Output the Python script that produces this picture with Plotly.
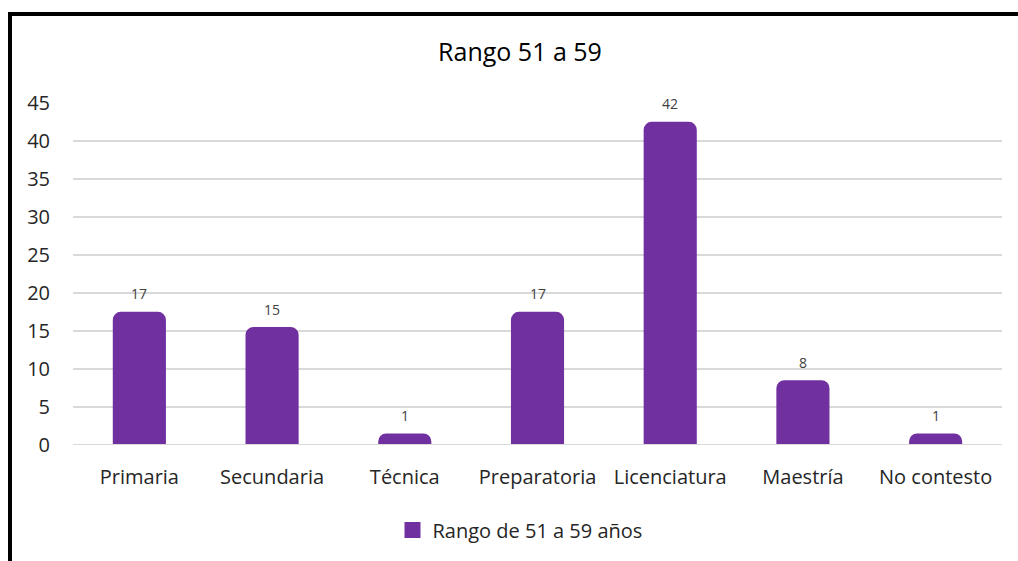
import plotly.graph_objects as go

categories = ["Primaria", "Secundaria", "Técnica", "Preparatoria", "Licenciatura", "Maestría", "No contesto"]
values = [17, 15, 1, 17, 42, 8, 1]
series_name = "Rango de 51 a 59 años"
title_text = "Rango 51 a 59"
y_ticks = [0, 5, 10, 15, 20, 25, 30, 35, 40, 45]

PURPLE = "#7030A0"
FONT = "Open Sans"
TXT = "#262626"

fig = go.Figure()
fig.add_trace(go.Bar(
    x=categories, y=values, name=series_name,
    marker=dict(color=PURPLE, line=dict(color=PURPLE, width=8), cornerradius=4),
    cliponaxis=False,
    showlegend=False,
))
# legend entry with a larger square swatch
fig.add_trace(go.Scatter(
    x=[None], y=[None], mode="markers", name=series_name,
    marker=dict(symbol="square", size=20, color=PURPLE),
    showlegend=True,
))

annotations = [
    dict(x=c, y=v, xref="x", yref="y", text=str(v), showarrow=False,
         yanchor="middle", yshift=22,
         font=dict(family=FONT, size=14, color="#404040"))
    for c, v in zip(categories, values)
]

L, R, T, B = 73, 16, 103, 116
W, H = 1018, 561
pw, ph = W - L - R, H - T - B

def px(x):
    return (x - L) / pw

def py(y):
    return (H - B - y) / ph

fig.update_layout(
    width=W, height=H,
    margin=dict(l=L, r=R, t=T, b=B),
    paper_bgcolor="white", plot_bgcolor="white",
    bargap=0.66,
    font=dict(family=FONT, color=TXT),
    title=dict(text=title_text, x=520 / W, xref="container", xanchor="center",
               y=1 - 52 / H, yref="container", yanchor="middle",
               font=dict(family=FONT, size=25, color="black")),
    xaxis=dict(showgrid=False, showline=False, ticks="", ticklabelstandoff=18,
               tickfont=dict(family=FONT, size=20, color=TXT)),
    yaxis=dict(range=[0, 45], tickvals=y_ticks, showgrid=True, gridcolor="#d9d9d9",
               gridwidth=2, zeroline=False, showline=False, ticks="",
               ticklabelstandoff=22,
               tickfont=dict(family=FONT, size=20, color=TXT)),
    legend=dict(orientation="h", x=px(520), xanchor="center", y=py(530), yanchor="middle",
                font=dict(family=FONT, size=20, color=TXT), itemsizing="trace"),
    annotations=annotations,
    shapes=[
        dict(type="line", xref="paper", yref="paper", x0=px(8), x1=px(1030), y0=py(14), y1=py(14),
             line=dict(color="black", width=4)),
        dict(type="line", xref="paper", yref="paper", x0=px(10), x1=px(10), y0=py(12), y1=py(570),
             line=dict(color="black", width=4)),
        dict(type="line", xref="paper", yref="y", x0=0, x1=1, y0=0, y1=0, layer="above",
             line=dict(color="#d9d9d9", width=2)),
    ],
)

fig.write_html("out.html", config={"displayModeBar": False},
               post_script="document.body.style.margin='0';")
